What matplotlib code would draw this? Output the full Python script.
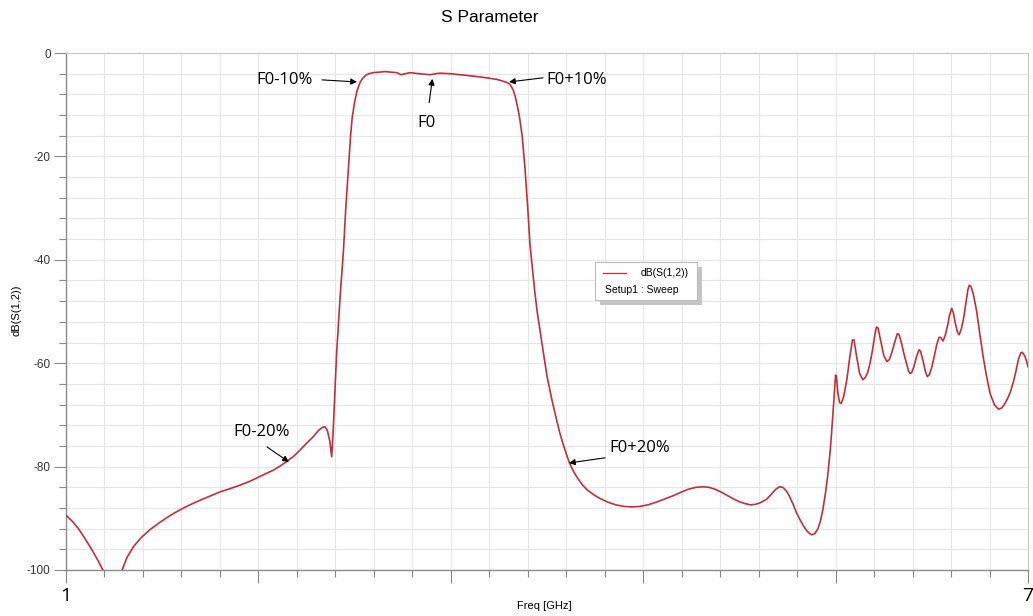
"""
S Parameter - dB(S(1,2)) 滤波器响应
"""

import matplotlib.pyplot as plt
from matplotlib.lines import Line2D
from matplotlib.patches import Rectangle
import numpy as np

# 频率 (GHz) 和 dB(S(1,2)) 读数
freq = [1.0, 1.04, 1.08, 1.12, 1.16, 1.20, 1.24, 1.27, 1.30, 1.33, 1.35,
        1.38, 1.42, 1.47, 1.524, 1.58, 1.628, 1.68, 1.74, 1.80, 1.86,
        1.93, 1.96, 2.02, 2.085, 2.15, 2.21, 2.25, 2.293, 2.34, 2.377, 2.42,
        2.46, 2.50, 2.543, 2.575, 2.60, 2.615, 2.63, 2.645, 2.657, 2.665,
        2.675, 2.688, 2.71, 2.73, 2.745, 2.761, 2.775, 2.785, 2.80, 2.815,
        2.834, 2.85, 2.87, 2.89, 2.917, 2.99, 3.063, 3.09, 3.146, 3.20, 3.27,
        3.33, 3.395, 3.46, 3.52, 3.60, 3.686, 3.72, 3.75, 3.77, 3.79, 3.805,
        3.82, 3.83, 3.845, 3.863, 3.88, 3.894, 3.91, 3.925, 3.94, 3.956,
        3.98, 4.0, 4.03, 4.06, 4.08, 4.10, 4.12, 4.14, 4.165, 4.19, 4.22,
        4.25, 4.29, 4.32, 4.36, 4.39, 4.43, 4.48, 4.53, 4.58, 4.63, 4.68,
        4.73, 4.79, 4.84, 4.88, 4.93, 4.975, 5.01, 5.05, 5.09, 5.12, 5.16,
        5.20, 5.24, 5.27, 5.30, 5.33, 5.37, 5.40, 5.43, 5.45, 5.47, 5.49,
        5.51, 5.535, 5.557, 5.58, 5.60, 5.625, 5.65, 5.67, 5.69, 5.705, 5.72,
        5.735, 5.75, 5.765, 5.775, 5.785, 5.795, 5.80, 5.805, 5.815, 5.825,
        5.835, 5.85, 5.87, 5.89, 5.905, 5.915, 5.93, 5.95, 5.97, 5.985, 6.0,
        6.015, 6.03, 6.045, 6.055, 6.065, 6.08, 6.10, 6.12, 6.135, 6.15,
        6.17, 6.185, 6.195, 6.21, 6.225, 6.24, 6.255, 6.264, 6.275, 6.29,
        6.305, 6.32, 6.33, 6.345, 6.36, 6.372, 6.385, 6.40, 6.415, 6.43,
        6.445, 6.455, 6.47, 6.485, 6.50, 6.51, 6.524, 6.535, 6.545, 6.56,
        6.57, 6.585, 6.60, 6.615, 6.625, 6.634, 6.645, 6.66, 6.68, 6.70,
        6.72, 6.74, 6.763, 6.79, 6.815, 6.835, 6.85, 6.87, 6.89, 6.91, 6.925,
        6.94, 6.955, 6.965, 6.98, 6.99, 7.0]
s12 = [-89.4, -90.6, -92.1, -94.0, -96.0, -98.2, -100.6, -103.0, -104.0,
       -102.0, -100.0, -97.6, -95.5, -93.7, -92.2, -90.9, -89.9, -88.9,
       -87.9, -87.0, -86.2, -85.3, -84.9, -84.3, -83.6, -82.8, -81.9, -81.3,
       -80.7, -79.8, -79.0, -78.0, -76.8, -75.5, -74.2, -73.0, -72.4, -72.3,
       -73.0, -75.0, -78.1, -74.0, -67.0, -58.0, -47.0, -38.5, -30.0, -22.4,
       -16.0, -12.5, -9.5, -7.3, -5.7, -4.9, -4.3, -4.0, -3.8, -3.6, -3.8,
       -4.2, -3.8, -4.0, -4.2, -3.9, -4.0, -4.2, -4.4, -4.7, -5.1, -5.4,
       -5.7, -6.1, -7.2, -8.8, -11.0, -12.7, -16.0, -22.4, -30.0, -37.1,
       -42.0, -46.5, -50.3, -53.6, -58.5, -62.5, -67.0, -71.0, -73.5, -75.6,
       -77.5, -79.3, -80.9, -82.2, -83.5, -84.5, -85.4, -86.0, -86.6, -87.0,
       -87.4, -87.7, -87.8, -87.7, -87.4, -86.9, -86.3, -85.6, -84.9, -84.4,
       -84.0, -83.9, -84.0, -84.4, -85.0, -85.5, -86.2, -86.8, -87.2, -87.4,
       -87.3, -87.0, -86.3, -85.3, -84.3, -83.9, -84.0, -84.6, -85.6, -87.3,
       -89.0, -90.4, -91.5, -92.6, -93.2, -93.0, -92.0, -90.6, -88.4, -85.5,
       -82.0, -77.4, -73.5, -69.0, -64.5, -62.3, -62.5, -66.0, -67.6, -67.8,
       -66.5, -63.2, -58.5, -55.5, -55.5, -58.5, -62.0, -63.2, -62.8, -61.8,
       -60.0, -57.5, -54.5, -53.0, -53.2, -55.5, -58.5, -59.7, -59.3, -58.0,
       -55.8, -54.3, -54.4, -56.0, -58.0, -59.8, -61.5, -62.0, -61.8, -60.5,
       -58.7, -57.4, -57.7, -59.5, -61.6, -62.6, -62.2, -60.8, -58.7, -56.5,
       -55.0, -55.0, -55.7, -54.5, -52.5, -50.8, -49.4, -50.3, -52.0, -54.0,
       -54.5, -53.3, -51.0, -47.8, -45.8, -44.9, -45.2, -46.8, -50.0, -54.5,
       -58.7, -62.3, -65.8, -68.0, -68.9, -68.7, -68.1, -67.0, -65.6, -63.5,
       -61.5, -59.3, -58.0, -57.9, -58.6, -59.5, -60.7]

# 标注：文字, 文字位置, 箭头起点, 箭头终点
notes = [
    ("F0-10%", (2.366, -5.2), (2.597, -5.2), (2.815, -5.6)),
    ("F0+10%", (4.187, -5.2), (3.975, -4.8), (3.763, -5.6)),
    ("F0", (3.25, -13.5), (3.265, -9.6), (3.285, -5.0)),
    ("F0-20%", (2.222, -73.3), (2.254, -76.2), (2.39, -79.1)),
    ("F0+20%", (4.58, -76.4), (4.362, -78.3), (4.137, -79.3)),
]

plt.rcParams['font.family'] = ['Liberation Sans', 'DejaVu Sans']

fig = plt.figure(figsize=(10.33, 6.16), dpi=100)
ax = fig.add_axes([66 / 1033, 1 - 570 / 616, 962 / 1033, 517 / 616])

red = '#c0303a'
ax.plot(freq, s12, color=red, lw=1.2, zorder=3)

ax.set_xlim(1, 7)
ax.set_ylim(-100, 0)

# 刻度
xmaj = np.linspace(1, 7, 6)
xmin = np.linspace(1, 7, 26)
ax.set_xticks(xmaj)
ax.set_xticks(xmin, minor=True)
ax.set_xticklabels(['1', '', '', '', '', '7'], fontsize=14,
                   family=['Open Sans', 'DejaVu Sans'])
ax.set_yticks(np.arange(-100, 1, 20))
ax.set_yticks(np.arange(-100, 1, 4), minor=True)
ax.set_yticklabels([str(v) for v in range(-100, 1, 20)], fontsize=8.5,
                   color='#333333')
ax.tick_params(which='major', length=9, width=0.8, color='#888888', pad=2)
ax.tick_params(which='minor', length=5, width=0.8, color='#888888')
ax.tick_params(axis='x', which='major', pad=3)

ax.grid(which='both', color='#e6e6e6', lw=0.8, zorder=0)
for s in ['left', 'bottom']:
    ax.spines[s].set_color('#8c8c8c')
    ax.spines[s].set_linewidth(1.0)
for s in ['top', 'right']:
    ax.spines[s].set_color('#c8c8c8')
    ax.spines[s].set_linewidth(0.8)

fig.text(490 / 1033, 1 - 17 / 616, 'S Parameter', fontsize=12.5,
         ha='center', va='center')
fig.text(544 / 1033, 1 - 606 / 616, 'Freq [GHz]', fontsize=8,
         ha='center', va='center')
fig.text(17 / 1033, 1 - 310 / 616, 'dB(S(1,2))', fontsize=8,
         ha='center', va='center', rotation=90)

# 箭头标注
for label, txy, start, tip in notes:
    ax.text(txy[0], txy[1], label, fontsize=12, ha='center', va='center',
            family=['Open Sans', 'DejaVu Sans'], zorder=5)
    ax.annotate('', xy=tip, xytext=start,
                arrowprops=dict(arrowstyle='-|>', color='black', lw=0.8,
                                mutation_scale=9, shrinkA=0, shrinkB=0),
                zorder=5)

# 图例框 (带阴影)
lx0, ly0 = (595 - 66) / 962, (570 - 300) / 517
lw_, lh_ = 102 / 962, 38 / 517
ax.add_patch(Rectangle((lx0 + 5 / 962, ly0 - 5 / 517), lw_, lh_,
                       transform=ax.transAxes, facecolor='#c4c4c4',
                       edgecolor='none', zorder=6))
ax.add_patch(Rectangle((lx0, ly0), lw_, lh_, transform=ax.transAxes,
                       facecolor='white', edgecolor='#bbbbbb', lw=0.8,
                       zorder=7))
ax.add_line(Line2D([(603 - 66) / 962, (626 - 66) / 962],
                   [(570 - 273) / 517] * 2, transform=ax.transAxes,
                   color=red, lw=0.9, zorder=8))
ax.text((689 - 66) / 962, (570 - 273) / 517, 'dB(S(1,2))', fontsize=7.5,
        ha='right', va='center', transform=ax.transAxes, zorder=8)
ax.text((605 - 66) / 962, (570 - 290) / 517, 'Setup1 : Sweep', fontsize=7.5,
        ha='left', va='center', transform=ax.transAxes, zorder=8)

plt.savefig('out.png', dpi=100)
